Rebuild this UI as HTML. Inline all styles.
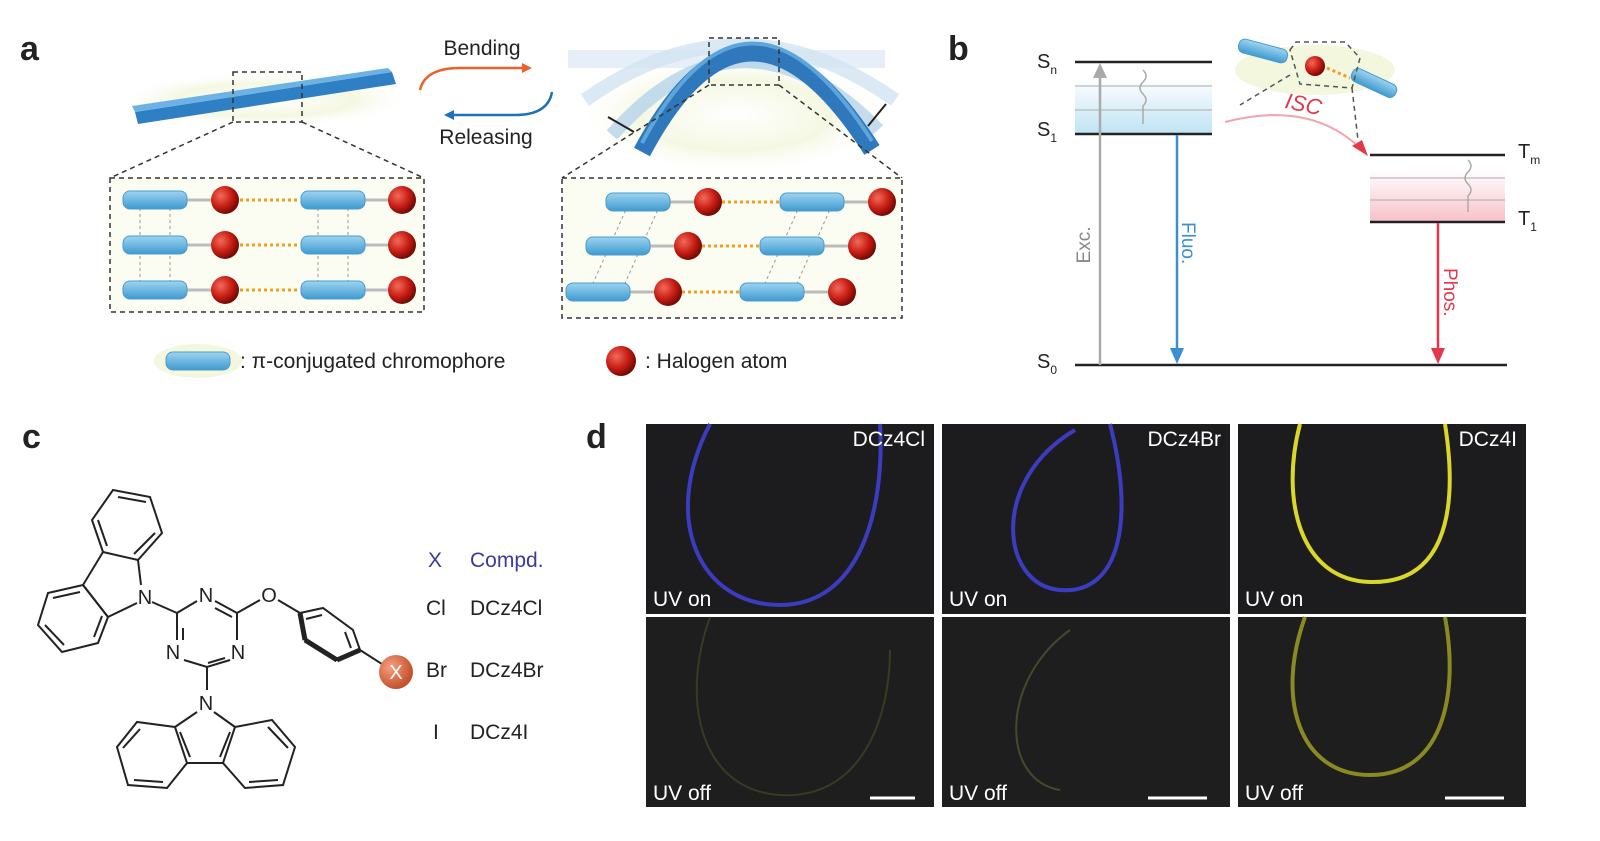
<!DOCTYPE html>
<html><head><meta charset="utf-8"><style>
body{margin:0;background:#fff;width:1600px;height:841px;overflow:hidden}
svg{display:block}
text{font-family:"Liberation Sans",Arial,sans-serif}
</style></head><body>
<svg width="1600" height="841" viewBox="0 0 1600 841" xmlns="http://www.w3.org/2000/svg">
<defs>
<radialGradient id="ball" cx="35%" cy="35%" r="65%"><stop offset="0" stop-color="#f26a5a"/><stop offset="0.6" stop-color="#c81e14"/><stop offset="1" stop-color="#7a0a05"/></radialGradient>
<radialGradient id="xball" cx="35%" cy="35%" r="65%"><stop offset="0" stop-color="#f6a080"/><stop offset="1" stop-color="#c4502c"/></radialGradient>
<radialGradient id="glow" cx="50%" cy="50%" r="50%"><stop offset="0" stop-color="#fff"/><stop offset="0.6" stop-color="#f4f8e2"/><stop offset="1" stop-color="#fff" stop-opacity="0"/></radialGradient>
<linearGradient id="chrom" x1="0" y1="0" x2="0" y2="1"><stop offset="0" stop-color="#9ed4f0"/><stop offset="1" stop-color="#3f9ad0"/></linearGradient>
<linearGradient id="blueband" x1="0" y1="0" x2="0" y2="1"><stop offset="0" stop-color="#fff"/><stop offset="1" stop-color="#bfe3f3"/></linearGradient>
<linearGradient id="pinkband" x1="0" y1="0" x2="0" y2="1"><stop offset="0" stop-color="#fff"/><stop offset="1" stop-color="#f6c1c8"/></linearGradient>
<g id="chr"><rect x="-32" y="-9" width="64" height="18" rx="7" fill="url(#chrom)" stroke="#4a9ccc" stroke-width="1"/></g>
<g id="hal"><circle r="14" fill="url(#ball)"/></g>
</defs>

<g font-weight="bold" font-size="34" fill="#222">
<text x="20" y="60">a</text><text x="948" y="60">b</text><text x="22" y="448">c</text><text x="586" y="448">d</text>
</g>

<!-- Panel a left bar -->
<ellipse cx="265" cy="100" rx="150" ry="28" fill="url(#glow)"/>
<polygon points="135,112 392,72 396,84 138,124" fill="#2f7fc4"/>
<polygon points="135,112 392,72 388,68 132,106" fill="#6cb2e4"/>
<rect x="233" y="72" width="69" height="50" fill="none" stroke="#333" stroke-dasharray="5,4" stroke-width="1.5"/>
<line x1="233" y1="122" x2="110" y2="178" stroke="#333" stroke-dasharray="5,4" stroke-width="1.5"/>
<line x1="302" y1="122" x2="424" y2="178" stroke="#333" stroke-dasharray="5,4" stroke-width="1.5"/>
<rect x="110" y="178" width="314" height="134" fill="#fbfdf2" stroke="#333" stroke-dasharray="5,4" stroke-width="1.5"/>
<g>
<g stroke="#999" stroke-dasharray="3,3"><line x1="140" y1="202" x2="140" y2="290"/><line x1="170" y1="202" x2="170" y2="290"/><line x1="318" y1="202" x2="318" y2="290"/><line x1="348" y1="202" x2="348" y2="290"/></g>
<g stroke="#f0a020" stroke-width="3" stroke-dasharray="3,3"><line x1="240" y1="200" x2="300" y2="200"/><line x1="240" y1="245" x2="300" y2="245"/><line x1="240" y1="290" x2="300" y2="290"/></g>
<g stroke="#bbb" stroke-width="3"><line x1="185" y1="200" x2="215" y2="200"/><line x1="185" y1="245" x2="215" y2="245"/><line x1="185" y1="290" x2="215" y2="290"/><line x1="362" y1="200" x2="392" y2="200"/><line x1="362" y1="245" x2="392" y2="245"/><line x1="362" y1="290" x2="392" y2="290"/></g>
<use href="#chr" x="155" y="200"/><use href="#chr" x="155" y="245"/><use href="#chr" x="155" y="290"/>
<use href="#chr" x="333" y="200"/><use href="#chr" x="333" y="245"/><use href="#chr" x="333" y="290"/>
<use href="#hal" x="225" y="200"/><use href="#hal" x="225" y="245"/><use href="#hal" x="225" y="290"/>
<use href="#hal" x="402" y="200"/><use href="#hal" x="402" y="245"/><use href="#hal" x="402" y="290"/>
</g>

<text x="482" y="55" font-size="21" text-anchor="middle" fill="#222">Bending</text>
<text x="486" y="144" font-size="21" text-anchor="middle" fill="#222">Releasing</text>
<path d="M420,90 Q425,68 460,68 L528,68" fill="none" stroke="#e8622a" stroke-width="2.5"/>
<path d="M522,63 L532,68 L522,73 Z" fill="#e8622a"/>
<path d="M552,92 Q548,115 515,115 L448,115" fill="none" stroke="#1f72b8" stroke-width="2.5"/>
<path d="M454,110 L444,115 L454,120 Z" fill="#1f72b8"/>

<!-- arch -->
<ellipse cx="735" cy="115" rx="160" ry="60" fill="url(#glow)"/>
<rect x="568" y="50" width="317" height="18" fill="#dbe8f4" opacity="0.7"/>
<path d="M585,100 Q740,-10 895,100" fill="none" stroke="#d2e4f1" stroke-width="14" opacity="0.8"/>
<path d="M612,135 Q740,-10 878,130" fill="none" stroke="#b5d3ea" stroke-width="14" opacity="0.8"/>
<path d="M642,152 Q747,-46 872,150" fill="none" stroke="#2f78bc" stroke-width="18"/>
<path d="M642,148 Q747,-50 872,146" fill="none" stroke="#5da6dc" stroke-width="4" transform="translate(0,-5)"/>
<line x1="608" y1="117" x2="634" y2="132" stroke="#222" stroke-width="2"/>
<line x1="886" y1="104" x2="868" y2="126" stroke="#222" stroke-width="2"/>
<rect x="709" y="38" width="70" height="47" fill="none" stroke="#333" stroke-dasharray="5,4" stroke-width="1.5"/>
<line x1="709" y1="85" x2="562" y2="178" stroke="#333" stroke-dasharray="5,4" stroke-width="1.5"/>
<line x1="779" y1="85" x2="902" y2="178" stroke="#333" stroke-dasharray="5,4" stroke-width="1.5"/>
<rect x="562" y="178" width="340" height="140" fill="#fbfdf2" stroke="#333" stroke-dasharray="5,4" stroke-width="1.5"/>
<g>
<g stroke="#999" stroke-dasharray="3,3"><line x1="628" y1="205" x2="590" y2="290"/><line x1="660" y1="205" x2="622" y2="290"/><line x1="800" y1="205" x2="762" y2="290"/><line x1="832" y1="205" x2="794" y2="290"/></g>
<g stroke="#f0a020" stroke-width="3" stroke-dasharray="3,3"><line x1="722" y1="202" x2="782" y2="202"/><line x1="702" y1="246" x2="762" y2="246"/><line x1="682" y1="292" x2="742" y2="292"/></g>
<g stroke="#bbb" stroke-width="3"><line x1="668" y1="202" x2="698" y2="202"/><line x1="648" y1="246" x2="678" y2="246"/><line x1="628" y1="292" x2="658" y2="292"/><line x1="843" y1="202" x2="873" y2="202"/><line x1="823" y1="246" x2="853" y2="246"/><line x1="803" y1="292" x2="833" y2="292"/></g>
<use href="#chr" x="638" y="202"/><use href="#chr" x="618" y="246"/><use href="#chr" x="598" y="292"/>
<use href="#chr" x="812" y="202"/><use href="#chr" x="792" y="246"/><use href="#chr" x="772" y="292"/>
<use href="#hal" x="708" y="202"/><use href="#hal" x="688" y="246"/><use href="#hal" x="668" y="292"/>
<use href="#hal" x="882" y="202"/><use href="#hal" x="862" y="246"/><use href="#hal" x="842" y="292"/>
</g>

<ellipse cx="198" cy="361" rx="44" ry="17" fill="#f2f7de"/>
<rect x="166" y="352" width="64" height="18" rx="7" fill="url(#chrom)" stroke="#4a9ccc"/>
<text x="240" y="368" font-size="21" fill="#222">: π-conjugated chromophore</text>
<circle cx="621" cy="361" r="15" fill="url(#ball)"/>
<text x="645" y="368" font-size="21" fill="#222">: Halogen atom</text>

<!-- Panel b -->
<rect x="1075" y="78" width="137" height="56" fill="url(#blueband)"/>
<line x1="1075" y1="86" x2="1212" y2="86" stroke="#aaa"/><line x1="1075" y1="110" x2="1212" y2="110" stroke="#aaa"/>
<rect x="1370" y="170" width="135" height="52" fill="url(#pinkband)"/>
<line x1="1370" y1="178" x2="1505" y2="178" stroke="#aaa"/><line x1="1370" y1="200" x2="1505" y2="200" stroke="#aaa"/>
<g stroke="#222" stroke-width="2.5">
<line x1="1075" y1="62" x2="1212" y2="62"/><line x1="1075" y1="134" x2="1212" y2="134"/>
<line x1="1075" y1="365" x2="1507" y2="365"/>
<line x1="1370" y1="155" x2="1505" y2="155"/><line x1="1370" y1="222" x2="1505" y2="222"/>
</g>
<g font-size="20" fill="#222">
<text x="1037" y="68">S<tspan font-size="12" dy="6">n</tspan></text>
<text x="1037" y="136">S<tspan font-size="12" dy="6">1</tspan></text>
<text x="1037" y="368">S<tspan font-size="12" dy="6">0</tspan></text>
<text x="1518" y="158">T<tspan font-size="12" dy="6">m</tspan></text>
<text x="1518" y="225">T<tspan font-size="12" dy="6">1</tspan></text>
</g>
<line x1="1100" y1="365" x2="1100" y2="76" stroke="#aaa" stroke-width="2.5"/>
<path d="M1093,78 L1100,63 L1107,78 Z" fill="#aaa"/>
<text transform="translate(1090,245) rotate(-90)" font-size="19" fill="#888" text-anchor="middle">Exc.</text>
<line x1="1177" y1="135" x2="1177" y2="350" stroke="#3a8fd0" stroke-width="2.5"/>
<path d="M1170,348 L1177,364 L1184,348 Z" fill="#3a8fd0"/>
<text transform="translate(1182,222) rotate(90)" font-size="19" fill="#3a8fd0">Fluo.</text>
<line x1="1438" y1="223" x2="1438" y2="350" stroke="#e3384a" stroke-width="2.5"/>
<path d="M1431,348 L1438,364 L1445,348 Z" fill="#e3384a"/>
<text transform="translate(1444,268) rotate(90)" font-size="19" fill="#e3384a">Phos.</text>
<path d="M1143,70 q6,6 0,12 q-6,6 0,12 q6,6 0,12 L1143,124" fill="none" stroke="#aaa" stroke-width="1.5"/>
<path d="M1468,160 q6,6 0,12 q-6,6 0,12 q6,6 0,12 L1468,212" fill="none" stroke="#aaa" stroke-width="1.5"/>
<path d="M1225,122 Q1310,100 1360,148" fill="none" stroke="#f4a3ab" stroke-width="2"/>
<path d="M1352,146 L1368,156 L1362,140 Z" fill="#e3384a"/>
<text x="1285" y="112" font-size="22" font-style="italic" fill="#e3384a" transform="rotate(12 1305 105)">ISC</text>
<ellipse cx="1315" cy="70" rx="80" ry="25" fill="#f2f7de"/>
<rect x="1238" y="44" width="50" height="14" rx="6" fill="url(#chrom)" stroke="#4a9ccc" transform="rotate(15 1263 51)"/>
<rect x="1350" y="76" width="48" height="14" rx="6" fill="url(#chrom)" stroke="#4a9ccc" transform="rotate(25 1374 83)"/>
<line x1="1327" y1="68" x2="1350" y2="78" stroke="#f0a020" stroke-width="3" stroke-dasharray="3,3"/>
<circle cx="1315" cy="66" r="10" fill="url(#ball)"/>
<path d="M1290,50 L1296,42 L1345,42 L1360,58 L1352,88 L1300,84 Z" fill="none" stroke="#555" stroke-dasharray="5,4" stroke-width="1.5"/>
<line x1="1290" y1="75" x2="1240" y2="105" stroke="#555" stroke-dasharray="5,4" stroke-width="1.5"/>
<line x1="1352" y1="88" x2="1358" y2="140" stroke="#555" stroke-dasharray="5,4" stroke-width="1.5"/>

<!-- Panel c molecule -->
<g fill="none" stroke="#222" stroke-width="2">
<polygon points="113,490 150,497 162,533 138,560 103,552 92,520"/>
<line x1="118" y1="497" x2="146" y2="502"/><line x1="155" y1="533" x2="134" y2="554"/><line x1="98" y1="520" x2="107" y2="546"/>
<polyline points="103,552 83,585 108,617"/>
<line x1="138" y1="560" x2="141" y2="585"/>
<line x1="108" y1="617" x2="137" y2="603"/>
<polygon points="83,585 108,617 98,643 62,652 38,625 48,593"/>
<line x1="53" y1="598" x2="80" y2="592"/><line x1="45" y1="625" x2="64" y2="645"/><line x1="102" y1="616" x2="94" y2="637"/>
<line x1="152" y1="602" x2="177" y2="613"/>
<polyline points="177,625 177,613 197,601"/>
<line x1="215" y1="601" x2="237" y2="613"/><line x1="215" y1="608" x2="232" y2="617"/>
<line x1="237" y1="613" x2="237" y2="640"/>
<polyline points="230,660 207,667 184,660"/>
<line x1="225" y1="658" x2="208" y2="663"/>
<line x1="177" y1="640" x2="177" y2="625"/><line x1="183" y1="628" x2="183" y2="640"/>
<line x1="237" y1="613" x2="260" y2="600"/>
<line x1="278" y1="600" x2="300" y2="613"/>
<polygon points="300,613 323,608 353,630 360,650 337,660 305,640"/>
<line x1="306" y1="619" x2="322" y2="615"/><line x1="345" y1="632" x2="351" y2="648"/>
<line x1="360" y1="650" x2="382" y2="664"/>
<line x1="207" y1="667" x2="207" y2="690"/>
<line x1="197" y1="712" x2="175" y2="727"/><line x1="214" y1="712" x2="235" y2="727"/>
<polygon points="175,727 137,722 117,747 128,785 167,788 187,763"/>
<polygon points="235,727 272,720 295,747 283,785 245,788 223,763"/>
<line x1="187" y1="763" x2="223" y2="763"/>
<line x1="140" y1="729" x2="123" y2="748"/><line x1="134" y1="780" x2="163" y2="782"/><line x1="180" y1="732" x2="190" y2="757"/>
<line x1="268" y1="727" x2="288" y2="748"/><line x1="278" y1="780" x2="249" y2="782"/><line x1="230" y1="732" x2="220" y2="757"/>
</g>
<line x1="300" y1="613" x2="305" y2="640" stroke="#222" stroke-width="5"/>
<line x1="305" y1="640" x2="337" y2="660" stroke="#222" stroke-width="5"/>
<line x1="337" y1="660" x2="360" y2="650" stroke="#222" stroke-width="5"/>
<g font-size="20" fill="#222" text-anchor="middle">
<text x="145" y="604">N</text><text x="206" y="602">N</text><text x="173" y="659">N</text><text x="238" y="659">N</text>
<text x="269" y="602">O</text><text x="206" y="710">N</text>
</g>
<circle cx="396" cy="672" r="17" fill="url(#xball)"/>
<text x="396" y="679" font-size="20" fill="#fff" text-anchor="middle">X</text>
<g font-size="21" fill="#222">
<text x="428" y="567" fill="#3b3b9a">X</text><text x="470" y="567" fill="#3b3b9a">Compd.</text>
<text x="426" y="615">Cl</text><text x="470" y="615">DCz4Cl</text>
<text x="426" y="677">Br</text><text x="470" y="677">DCz4Br</text>
<text x="433" y="739">I</text><text x="470" y="739">DCz4I</text>
</g>

<!-- Panel d -->
<g>
<rect x="646" y="424" width="288" height="190" fill="#1c1c1e"/>
<rect x="942" y="424" width="288" height="190" fill="#1c1c1e"/>
<rect x="1238" y="424" width="288" height="190" fill="#1c1c1e"/>
<rect x="646" y="617" width="288" height="190" fill="#1e1e1e"/>
<rect x="942" y="617" width="288" height="190" fill="#1e1e1e"/>
<rect x="1238" y="617" width="288" height="190" fill="#1e1e1e"/>
</g>
<g fill="none" stroke-width="4">
<path d="M710,424 C660,520 700,605 780,605 C860,605 885,510 880,424" stroke="#3c3cc0"/>
<path d="M1075,430 C990,480 1000,585 1060,590 C1120,595 1135,520 1110,424" stroke="#3c3cc0"/>
<path d="M1300,424 C1280,500 1300,580 1370,582 C1440,584 1460,520 1445,424" stroke="#d9d82a"/>
<path d="M710,617 C680,700 700,790 780,795 C860,800 890,720 890,650" stroke="#3a3a22" stroke-width="2"/>
<path d="M1070,630 C1000,680 1000,780 1060,790" stroke="#48482a" stroke-width="2"/>
<path d="M1305,617 C1275,700 1300,775 1370,775 C1440,775 1460,700 1445,617" stroke="#8a8a22"/>
</g>
<g font-size="21" fill="#fff">
<text x="925" y="446" text-anchor="end">DCz4Cl</text>
<text x="1221" y="446" text-anchor="end">DCz4Br</text>
<text x="1517" y="446" text-anchor="end">DCz4I</text>
<text x="653" y="606">UV on</text><text x="949" y="606">UV on</text><text x="1245" y="606">UV on</text>
<text x="653" y="800">UV off</text><text x="949" y="800">UV off</text><text x="1245" y="800">UV off</text>
</g>
<g stroke="#fff" stroke-width="3">
<line x1="870" y1="798" x2="915" y2="798"/><line x1="1148" y1="798" x2="1207" y2="798"/><line x1="1445" y1="798" x2="1504" y2="798"/>
</g>
</svg>
</body></html>
